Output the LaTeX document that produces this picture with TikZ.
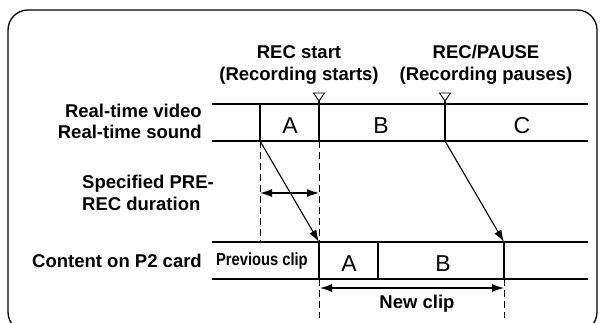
\documentclass[tikz,border=0pt]{standalone}
\usepackage{fontspec}
\setmainfont{Liberation Sans}
\usetikzlibrary{arrows.meta,calc}
\begin{document}
\begin{tikzpicture}[x=1pt,y=-1pt,
  lbl/.style={font=\fontsize{18.5}{22}\selectfont\bfseries, inner sep=0pt},
  seg/.style={font=\fontsize{23}{26}\selectfont, inner sep=0pt},
  prev/.style={font=\fontsize{17.5}{20}\selectfont\bfseries, inner sep=0pt, xscale=0.84, transform shape},
  track/.style={line width=2.8pt},
  cut/.style={line width=2.4pt},
  dsh/.style={line width=1pt, dash pattern=on 7pt off 4pt},
  thin/.style={line width=1.1pt},
  arr/.style={thin, -{Latex[length=12pt,width=8pt]}},
  darr/.style={thin, {Latex[length=12pt,width=8pt]}-{Latex[length=12pt,width=8pt]}},
  trimark/.style={line width=0.9pt}
]
\useasboundingbox (0,0) rectangle (601,322);
\draw[line width=1.3pt, rounded corners=20pt] (8,10) rectangle (597,332);

% key coordinates
\coordinate (t1L) at (212,104); \coordinate (t1R) at (588,104);
\coordinate (t2L) at (212,141); \coordinate (t2R) at (588,141);
\coordinate (b1L) at (212,242); \coordinate (b1R) at (588,242);
\coordinate (b2L) at (212,279); \coordinate (b2R) at (588,279);
\coordinate (aTop) at (260,104); \coordinate (aBot) at (260,141);
\coordinate (sTop) at (319,101); \coordinate (sBot) at (319,141);
\coordinate (pTop) at (445,101); \coordinate (pBot) at (445,141);
\coordinate (aDash) at (260,242);
\coordinate (c1Top) at (319,242); \coordinate (c1Bot) at (319,279);
\coordinate (c2Top) at (378,242); \coordinate (c2Bot) at (378,279);
\coordinate (c3Top) at (504,242); \coordinate (c3Bot) at (504,279);
\coordinate (sEnd) at (319,318); \coordinate (eEnd) at (504,318);
\coordinate (durL) at (260,193); \coordinate (durR) at (319,193);
\coordinate (newL) at (320,288); \coordinate (newR) at (504,288);

% tracks
\draw[track] (t1L) -- (t1R);
\draw[track] (t2L) -- (t2R);
\draw[track] (b1L) -- (b1R);
\draw[track] (b2L) -- (b2R);

% cuts
\draw[cut] (aTop) -- (aBot);
\draw[cut] (sTop) -- (sBot);
\draw[cut] (pTop) -- (pBot);
\draw[cut] (c1Top) -- (c1Bot);
\draw[cut] (c2Top) -- (c2Bot);
\draw[cut] (c3Top) -- (c3Bot);

% markers
\draw[trimark] ($(sTop)+(-5.5,-8)$) -- ($(sTop)+(5.5,-8)$) -- (sTop) -- cycle;
\draw[trimark] ($(pTop)+(-5.5,-8)$) -- ($(pTop)+(5.5,-8)$) -- (pTop) -- cycle;

% dashed guides
\draw[dsh] (aBot) -- (aDash);
\draw[dsh] (sBot) -- (c1Top);
\draw[dsh] (c1Bot) -- (sEnd);
\draw[dsh] (c3Bot) -- (eEnd);

% arrows
\draw[arr] (aBot) -- (c1Top);
\draw[arr] (pBot) -- (c3Top);
\draw[darr] (durL) -- (durR);
\draw[darr] (newL) -- (newR);

% labels
\node[lbl, anchor=base] (rs1) at (299,58) {REC start};
\node[lbl, anchor=base] (rs2) at (299,80) {(Recording starts)};
\node[lbl, anchor=base] (rp1) at (486,58) {REC/PAUSE};
\node[lbl, anchor=base] (rp2) at (486,80) {(Recording pauses)};
\node[lbl, anchor=base east] (rv) at (202,117) {Real-time video};
\node[lbl, anchor=base east] (rsnd) at (202,138) {Real-time sound};
\node[lbl, anchor=base west] (sp1) at (82,188) {Specified PRE-};
\node[lbl, anchor=base west] (sp2) at (82,210) {REC duration};
\node[lbl, anchor=base east] (cp2) at (202,267) {Content on P2 card};
\node[prev, anchor=base west] (pc) at (216,265) {Previous clip};
\node[lbl, anchor=base] (nc) at (417,308) {New clip};

\node[seg, anchor=base] (sa) at (290,133) {A};
\node[seg, anchor=base] (sb) at (381,133) {B};
\node[seg, anchor=base] (sc) at (522,133) {C};
\node[seg, anchor=base] (ba) at (349,271) {A};
\node[seg, anchor=base] (bb) at (443,271) {B};
\end{tikzpicture}
\end{document}
